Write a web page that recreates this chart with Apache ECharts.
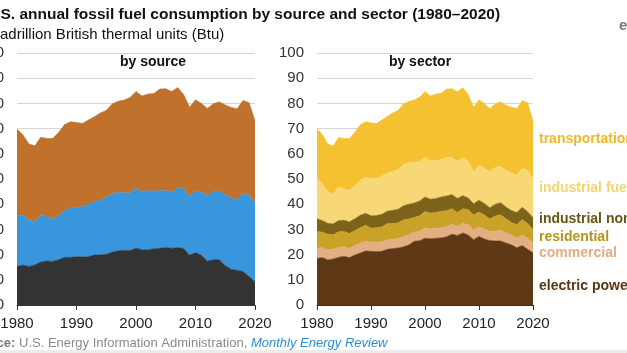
<!DOCTYPE html>
<html>
<head>
<meta charset="utf-8">
<title>U.S. annual fossil fuel consumption by source and sector</title>
<script src="https://cdn.jsdelivr.net/npm/echarts@6/dist/echarts.min.js"></script>
<style>
  html, body { margin: 0; padding: 0; background: #fff; }
  #main { width: 627px; height: 353px; }
</style>
</head>
<body>
<div id="main"></div>
<script>
// quadrillion Btu, 1980-2020
const years = [
  '1980','1981','1982','1983','1984','1985','1986','1987','1988','1989',
  '1990','1991','1992','1993','1994','1995','1996','1997','1998','1999',
  '2000','2001','2002','2003','2004','2005','2006','2007','2008','2009',
  '2010','2011','2012','2013','2014','2015','2016','2017','2018','2019','2020'
];
const yTicks = [0, 100, 10]; // min, max, step

// by source
const coal = [15.4,15.9,15.3,15.9,17.1,17.5,17.3,18.0,18.9,18.9,
  19.2,19.1,19.2,19.8,19.9,20.1,21.0,21.5,21.7,21.6,
  22.6,21.9,21.9,22.3,22.5,22.8,22.5,22.8,22.4,19.7,
  20.8,19.7,17.4,18.0,18.0,15.6,14.2,13.8,13.3,11.3,9.2];
const naturalGas = [20.2,19.7,18.4,17.2,18.4,17.7,16.6,17.6,18.5,19.6,
  19.6,20.0,20.7,21.2,21.7,22.7,23.1,23.2,22.8,22.9,
  23.8,22.8,23.6,22.8,22.9,22.6,22.2,23.7,23.8,23.4,
  24.6,25.0,26.1,26.8,27.4,28.1,28.4,28.0,31.0,32.2,31.6];
const petroleum = [34.2,31.9,30.2,30.1,31.1,30.9,32.2,32.9,34.2,34.2,
  33.6,32.9,33.5,33.7,34.6,34.4,35.7,36.2,36.8,37.8,
  38.3,38.2,38.2,38.8,40.3,40.4,40.0,39.8,37.3,35.4,
  36.0,35.3,34.5,35.1,35.2,35.7,35.8,36.1,36.9,36.8,32.3];

// by sector
const electricPower = [18.5,18.8,17.9,18.3,18.9,19.3,18.8,19.8,20.6,21.4,
  21.3,21.2,21.3,22.1,22.4,22.6,23.1,23.8,25.3,25.5,
  26.5,26.3,26.5,26.6,27.1,28.1,27.6,28.6,27.8,25.9,
  27.2,26.2,25.6,25.4,25.4,24.6,23.9,22.7,23.6,22.1,20.7];
const commercial = [4.1,3.9,4.0,3.8,4.0,3.8,3.7,3.8,3.9,3.9,
  3.6,3.7,3.7,3.7,3.7,3.8,4.0,4.0,3.7,3.8,
  4.1,3.9,4.0,4.1,4.0,3.9,3.6,3.8,4.0,4.0,
  3.9,3.9,3.6,4.0,4.2,4.1,3.8,3.9,4.3,4.3,3.9];
const residential = [6.6,6.2,6.2,5.8,6.2,6.1,5.9,5.9,6.2,6.3,
  5.6,5.8,6.0,6.4,6.2,6.2,6.7,6.3,5.7,6.1,
  6.5,6.3,6.2,6.5,6.3,6.2,5.5,5.8,6.0,5.8,
  5.8,5.6,4.9,5.9,6.2,5.5,5.0,5.3,6.0,5.9,5.4];
const industrialNonFuel = [5.0,4.6,4.3,4.3,4.4,4.4,4.6,4.7,4.9,4.8,
  4.9,4.8,5.0,5.0,5.3,5.4,5.6,5.9,5.8,5.9,
  5.8,5.5,5.6,5.7,5.9,5.6,5.6,5.2,4.7,4.5,
  4.7,4.6,4.5,4.7,4.8,4.7,4.8,4.8,4.9,4.7,4.7];
const industrialFuel = [16.0,14.6,12.5,11.8,13.3,12.5,12.4,13.0,14.0,14.2,
  14.7,14.7,15.2,15.1,15.5,15.7,16.3,16.4,16.0,15.6,
  15.7,15.1,15.1,14.7,15.2,14.6,14.7,15.0,14.5,12.7,
  13.9,14.0,14.3,14.6,14.4,14.5,14.8,14.9,15.5,16.5,15.3];
const transportation = [19.7,19.5,19.0,19.1,19.7,20.0,20.7,21.3,21.9,22.1,
  22.2,21.8,22.2,22.5,23.1,23.5,24.1,24.4,24.8,25.5,
  26.1,25.8,26.3,26.4,27.2,27.4,27.6,27.8,26.5,25.6,
  25.9,25.6,25.0,25.3,25.6,25.9,26.2,26.4,26.8,26.8,23.0];

const FONT = '"Liberation Sans", Arial, Helvetica, sans-serif';

const chart = echarts.init(document.getElementById('main'), null, { renderer: 'canvas' });

function xAxis(gridIndex) {
  return {
    type: 'category',
    gridIndex,
    data: years,
    boundaryGap: false,
    axisLine: { lineStyle: { color: '#333', width: 1 } },
    axisTick: { interval: 9, length: 5, lineStyle: { color: '#333' } },
    axisLabel: { interval: 9, color: '#222', fontSize: 15, fontFamily: FONT, margin: 11 },
    splitLine: { show: false }
  };
}

function yAxis(gridIndex) {
  return {
    type: 'value',
    gridIndex,
    min: yTicks[0],
    max: yTicks[1],
    interval: yTicks[2],
    axisLine: { show: false },
    axisTick: { show: false },
    axisLabel: { color: '#333', fontSize: 15, fontFamily: FONT, margin: 13 },
    splitLine: { lineStyle: { color: '#d6d6d6', width: 1 } }
  };
}

function area(name, data, color, idx, stack) {
  return {
    name,
    type: 'line',
    stack,
    data,
    xAxisIndex: idx,
    yAxisIndex: idx,
    symbol: 'none',
    silent: true,
    lineStyle: { width: 0.6, color },
    itemStyle: { color },
    areaStyle: { color, opacity: 1 }
  };
}

function label(text, x, y, fill, opts) {
  return {
    type: 'text',
    x, y,
    silent: true,
    style: Object.assign({
      text,
      fill,
      fontSize: 14,
      fontWeight: 'bold',
      fontFamily: FONT,
      align: 'left',
      verticalAlign: 'middle'
    }, opts || {})
  };
}

const option = {
  animation: false,
  backgroundColor: '#fff',
  grid: [
    { left: 17, top: 53, width: 238, height: 252, outerBoundsMode: 'none', containLabel: false },
    { left: 317, top: 53, width: 216, height: 252, outerBoundsMode: 'none', containLabel: false }
  ],
  xAxis: [xAxis(0), xAxis(1)],
  yAxis: [yAxis(0), yAxis(1)],
  series: [
    area('coal', coal, '#333333', 0, 'src'),
    area('natural gas', naturalGas, '#3a96dc', 0, 'src'),
    area('petroleum', petroleum, '#c0712b', 0, 'src'),
    area('electric power', electricPower, '#5f3815', 1, 'sec'),
    area('commercial', commercial, '#e3ae82', 1, 'sec'),
    area('residential', residential, '#c9a227', 1, 'sec'),
    area('industrial non-fuel', industrialNonFuel, '#7d6319', 1, 'sec'),
    area('industrial fuel', industrialFuel, '#f8d776', 1, 'sec'),
    area('transportation', transportation, '#f6c131', 1, 'sec')
  ],
  graphic: [
    label('U.S. annual fossil fuel consumption by source and sector (1980\u20132020)', -15, 15, '#111', { fontSize: 15.5 }),
    label('Quadrillion British thermal units (Btu)', -20, 35, '#111', { fontSize: 15, fontWeight: 'normal' }),
    label('e', 619, 26, '#777', { fontSize: 15 }),

    label('by source', 153, 62, '#111', { align: 'center' }),
    label('by sector', 420, 62, '#111', { align: 'center' }),

    label('petroleum', 196, 165, '#fff', { align: 'center' }),
    label('natural gas', 196, 233, '#fff', { align: 'center' }),
    label('coal', 196, 283, '#fff', { align: 'center' }),

    label('transportation', 539, 139, '#f0b929'),
    label('industrial fuel', 539, 188, '#f5d470'),
    label('industrial non-fuel', 539, 219, '#6a5414'),
    label('residential', 539, 237, '#b8921a'),
    label('commercial', 539, 253, '#e3ad84'),
    label('electric power', 539, 286, '#5a3614'),

    {
      type: 'text',
      x: -33, y: 343,
      silent: true,
      style: {
        text: '{b|Source:} {n|U.S. Energy Information Administration,} {i|Monthly Energy Review}',
        fontSize: 13,
        fontFamily: FONT,
        verticalAlign: 'middle',
        rich: {
          b: { fontSize: 13, fontWeight: 'bold', fill: '#7a7a7a', fontFamily: FONT },
          n: { fontSize: 13, fill: '#8a8a8a', fontFamily: FONT },
          i: { fontSize: 13, fontStyle: 'italic', fill: '#2a8fdb', fontFamily: FONT }
        }
      }
    },
    {
      type: 'rect',
      silent: true,
      shape: { x: 0, y: 350, width: 627, height: 3 },
      style: { fill: '#ececec' }
    }
  ]
};

chart.setOption(option);
</script>
</body>
</html>
